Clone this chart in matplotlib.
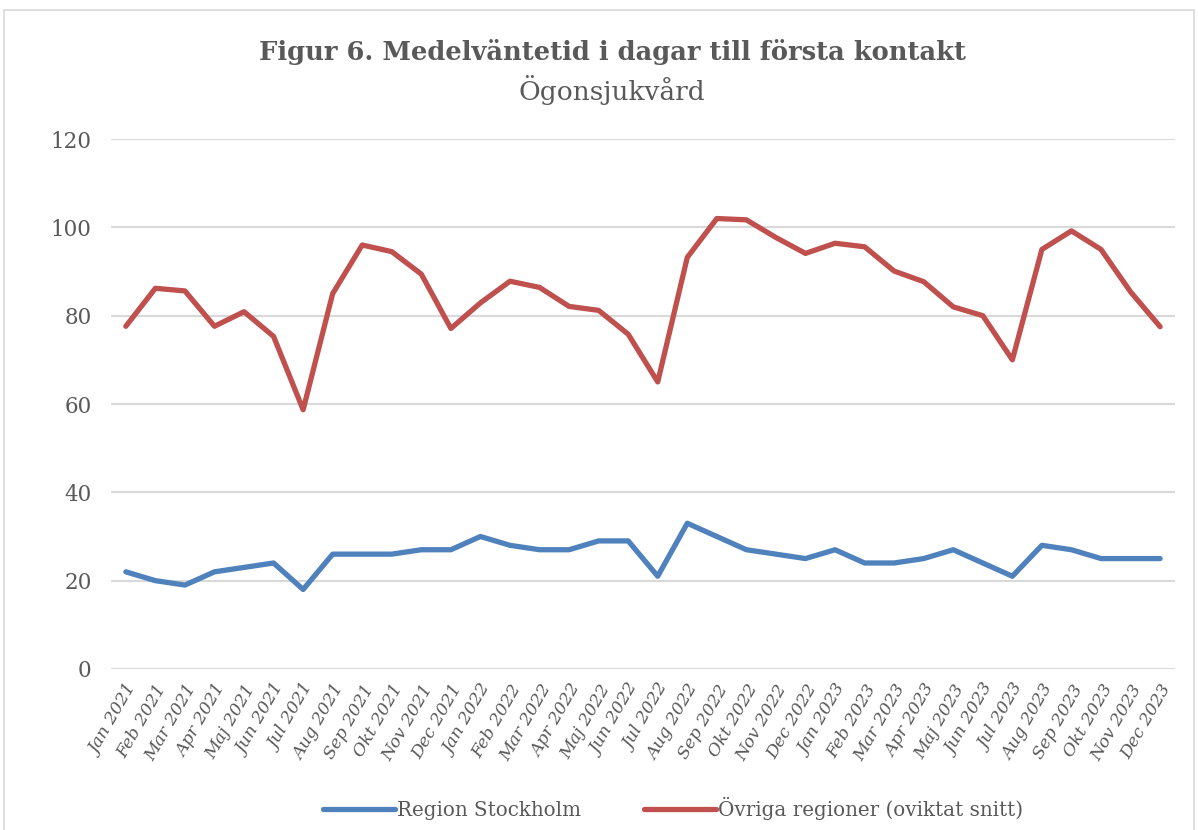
import matplotlib.pyplot as plt
from matplotlib.patches import Rectangle

plt.rcParams['font.family'] = ['DejaVu Serif']

manader = ['Jan', 'Feb', 'Mar', 'Apr', 'Maj', 'Jun', 'Jul', 'Aug', 'Sep', 'Okt', 'Nov', 'Dec']
ar = ['2021', '2022', '2023']
labels = [m + ' ' + a for a in ar for m in manader]

stockholm = [22, 20, 19, 22, 23, 24, 18, 26, 26, 26, 27, 27,
             30, 28, 27, 27, 29, 29, 21, 33, 30, 27, 26, 25,
             27, 24, 24, 25, 27, 24, 21, 28, 27, 25, 25, 25]

ovriga = [77.6, 86.2, 85.6, 77.6, 80.9, 75.3, 58.7, 85.0, 96.0, 94.5, 89.4, 77.1,
          82.9, 87.8, 86.4, 82.1, 81.2, 75.8, 65.0, 93.2, 102.0, 101.7, 97.7, 94.1,
          96.4, 95.6, 90.1, 87.7, 82.0, 80.0, 70.0, 95.0, 99.2, 95.0, 85.4, 77.5]

gray = '#595959'

fig = plt.figure(figsize=(11.98, 8.30), dpi=100)
fig.patches.append(Rectangle((0.003, -0.01), 0.994, 0.998, transform=fig.transFigure,
                             fill=False, edgecolor='#D9D9D9', linewidth=1.2))

ax = fig.add_axes([0.0927, 0.194, 0.888, 0.6385])
x = range(len(labels))
ax.plot(x, stockholm, color='#4F81BD', linewidth=3.8, label='Region Stockholm',
        solid_joinstyle='round', solid_capstyle='round')
ax.plot(x, ovriga, color='#C0504D', linewidth=3.8, label='Övriga regioner (oviktat snitt)',
        solid_joinstyle='round', solid_capstyle='round')

ax.set_ylim(0, 120)
ax.set_yticks(range(0, 121, 20))
ax.set_xlim(-0.5, len(labels) - 0.5)
ax.set_xticks(list(x))
ax.set_xticklabels(labels, rotation=60, ha='right', rotation_mode='anchor',
                   fontsize=12.5, color=gray, style='italic')
ax.tick_params(axis='y', labelsize=15.5, labelcolor=gray, length=0, pad=14)
ax.tick_params(axis='x', length=0, pad=9)
ax.grid(axis='y', color='#D9D9D9', linewidth=1.5)
ax.set_axisbelow(True)
for s in ax.spines.values():
    s.set_visible(False)

fig.text(0.511, 0.937, 'Figur 6. Medelväntetid i dagar till första kontakt',
         ha='center', va='center', fontsize=18.5, fontweight='bold', color=gray)
fig.text(0.511, 0.892, 'Ögonsjukvård', ha='center', va='center', fontsize=19, color=gray)

fig.legend(loc='center', bbox_to_anchor=(0.562, 0.026), ncol=2, frameon=False,
           fontsize=14.3, labelcolor=gray, handlelength=3.6, handletextpad=0.12,
           columnspacing=3.2)

fig.savefig('out.png', dpi=100)
